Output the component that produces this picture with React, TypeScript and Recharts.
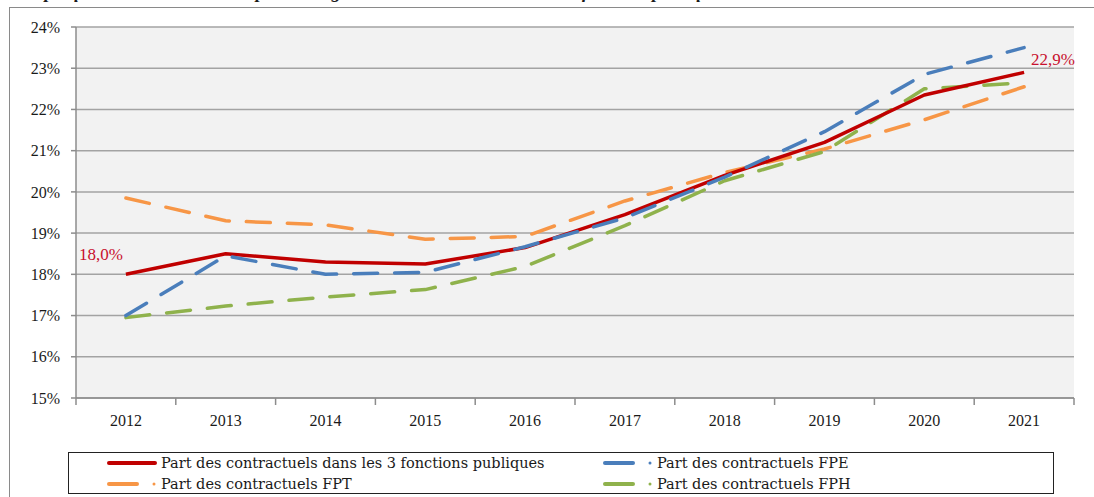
import { CartesianGrid, LabelList, Line, LineChart, XAxis, YAxis } from "recharts";

const years = ["2012", "2013", "2014", "2015", "2016", "2017", "2018", "2019", "2020", "2021"];
const partTotal = [18.0, 18.5, 18.3, 18.25, 18.65, 19.45, 20.4, 21.2, 22.35, 22.9];
const partFPE = [17.0, 18.45, 18.0, 18.05, 18.67, 19.37, 20.36, 21.46, 22.85, 23.5];
const partFPT = [19.85, 19.3, 19.2, 18.85, 18.92, 19.78, 20.47, 21.04, 21.75, 22.55];
const partFPH = [16.95, 17.23, 17.45, 17.63, 18.19, 19.18, 20.27, 20.98, 22.5, 22.65];
const yTicks = [15, 16, 17, 18, 19, 20, 21, 22, 23, 24];

const series = [
  { key: "total", name: "Part des contractuels dans les 3 fonctions publiques", color: "#c00000", dash: undefined },
  { key: "fpe", name: "Part des contractuels FPE", color: "#4a7ebb", dash: "24 17" },
  { key: "fpt", name: "Part des contractuels FPT", color: "#f79646", dash: "24 17" },
  { key: "fph", name: "Part des contractuels FPH", color: "#8fb24c", dash: "24 17" },
];

const data = years.map((year, i) => ({
  year,
  total: partTotal[i],
  fpe: partFPE[i],
  fpt: partFPT[i],
  fph: partFPH[i],
}));

const FONT = "'Liberation Serif', 'DejaVu Serif', serif";
const LEGEND_FONT = "'DejaVu Serif', serif";
const W = 1094;
const M = { top: 27, right: 20, left: 10, bottom: 7 };
const Y_W = 66;
const BAND = (W - M.left - M.right - Y_W) / years.length;

function YearTick(props: any) {
  const { x, y, index, payload } = props;
  const half = BAND / 2;
  return (
    <g>
      <line x1={x + half} x2={x + half} y1={y} y2={y + 7} stroke="#8c8c8c" strokeWidth={1.5} />
      {index === 0 && <line x1={x - half} x2={x - half} y1={y} y2={y + 7} stroke="#8c8c8c" strokeWidth={1.5} />}
      <text x={x} y={y + 28} textAnchor="middle" fontFamily={FONT} fontSize={16} fill="#1a1a1a">
        {payload.value}
      </text>
    </g>
  );
}

function EndLabel(props: any) {
  const { x, y, index, value } = props;
  const txt = Number(value).toFixed(1).replace(".", ",") + "%";
  if (index === 0) {
    return (
      <text x={x - 3} y={y - 14} textAnchor="end" fontFamily={FONT} fontSize={17} fill="#c8102e">
        {txt}
      </text>
    );
  }
  if (index === years.length - 1) {
    return (
      <text x={x + 7} y={y - 7} textAnchor="start" fontFamily={FONT} fontSize={17} fill="#c8102e">
        {txt}
      </text>
    );
  }
  return null;
}

function LegendItem({ s }: { s: (typeof series)[number] }) {
  return (
    <div style={{ display: "flex", alignItems: "center", height: 21 }}>
      <svg width={52} height={10} style={{ marginRight: 2 }}>
        {s.dash ? (
          <>
            <line x1={2} x2={30} y1={5} y2={5} stroke={s.color} strokeWidth={4} strokeLinecap="round" />
            <circle cx={47} cy={5} r={1.5} fill={s.color} />
          </>
        ) : (
          <line x1={2} x2={48} y1={5} y2={5} stroke={s.color} strokeWidth={4} strokeLinecap="round" />
        )}
      </svg>
      <span>{s.name}</span>
    </div>
  );
}

export default function App() {
  const order = [series[0], series[1], series[2], series[3]];
  return (
    <div style={{ position: "absolute", left: 0, top: 0, width: W, height: 497, overflow: "hidden", background: "#fff", fontFamily: FONT }}>
      <div
        style={{
          position: "absolute",
          left: 14,
          top: -19,
          fontSize: 19,
          fontWeight: "bold",
          fontStyle: "italic",
          whiteSpace: "nowrap",
          color: "#1a1a1a",
        }}
      >
        Graphique 3 – Évolution de la part des agents contractuels au sein de la fonction publique d'État
      </div>
      <div
        style={{
          position: "absolute",
          left: 9,
          top: 7,
          width: 1200,
          height: 600,
          borderLeft: "1.5px solid #8a8a8a",
          borderTop: "1.5px solid #8a8a8a",
        }}
      />
      <div style={{ position: "absolute", left: 0, top: 0 }}>
        <LineChart width={W} height={440} data={data} margin={M}>
          <CartesianGrid vertical={false} fill="#f2f2f2" stroke="#a3a3a3" strokeWidth={1.5} />
          <XAxis
            dataKey="year"
            axisLine={{ stroke: "#8c8c8c", strokeWidth: 1.5 }}
            tickLine={false}
            tickSize={0}
            tickMargin={0}
            height={35}
            interval={0}
            padding={{ left: BAND / 2, right: BAND / 2 }}
            tick={<YearTick />}
          />
          <YAxis
            domain={[15, 24]}
            ticks={yTicks}
            width={Y_W}
            axisLine={{ stroke: "#8c8c8c", strokeWidth: 1.5 }}
            tickLine={{ stroke: "#8c8c8c", strokeWidth: 1.5 }}
            tickSize={5}
            tickMargin={11}
            tickFormatter={(v) => `${v}%`}
            tick={{ fontFamily: FONT, fontSize: 16, fill: "#1a1a1a" }}
          />
          <Line dataKey="fpt" type="linear" stroke={series[2].color} strokeWidth={3.5} strokeDasharray={series[2].dash} strokeLinecap="round" strokeLinejoin="round" dot={false} isAnimationActive={false} />
          <Line dataKey="fph" type="linear" stroke={series[3].color} strokeWidth={3.5} strokeDasharray={series[3].dash} strokeLinecap="round" strokeLinejoin="round" dot={false} isAnimationActive={false} />
          <Line dataKey="total" type="linear" stroke={series[0].color} strokeWidth={3.5} strokeLinejoin="round" dot={false} isAnimationActive={false}>
            <LabelList dataKey="total" content={<EndLabel />} />
          </Line>
          <Line dataKey="fpe" type="linear" stroke={series[1].color} strokeWidth={3.5} strokeDasharray={series[1].dash} strokeLinecap="round" strokeLinejoin="round" dot={false} isAnimationActive={false} />
        </LineChart>
      </div>
      <div
        style={{
          position: "absolute",
          left: 68,
          top: 452,
          width: 984,
          height: 40,
          border: "1px solid #222",
          fontSize: 14.5,
          fontFamily: LEGEND_FONT,
          color: "#1a1a1a",
          display: "grid",
          gridTemplateColumns: "496px 488px",
          alignContent: "center",
        }}
      >
        <div style={{ paddingLeft: 38 }}><LegendItem s={order[0]} /></div>
        <div style={{ paddingLeft: 38 }}><LegendItem s={order[1]} /></div>
        <div style={{ paddingLeft: 38 }}><LegendItem s={order[2]} /></div>
        <div style={{ paddingLeft: 38 }}><LegendItem s={order[3]} /></div>
      </div>
    </div>
  );
}
